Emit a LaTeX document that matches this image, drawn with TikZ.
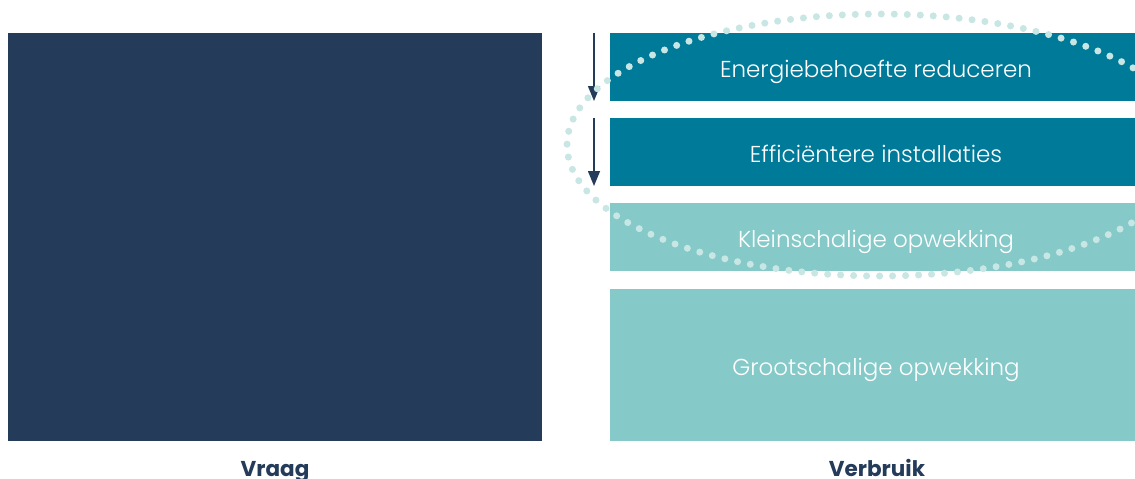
\documentclass[tikz,border=0pt]{standalone}
\usepackage{fontspec}
\setmainfont{Poppins}
\IfFontExistsTF{Poppins Light}{\newfontfamily\lightfont{Poppins Light}}{\newfontfamily\lightfont{Poppins}}
\usetikzlibrary{arrows.meta}
\definecolor{navy}{HTML}{243B5A}
\definecolor{petrol}{HTML}{007A99}
\definecolor{lteal}{HTML}{85CAC8}
\definecolor{dotc}{HTML}{C8E6E3}
\begin{document}
\begin{tikzpicture}[x=1pt,y=-1pt,
  box/.style={draw=none,anchor=north west,inner sep=0pt},
  btxt/.style={anchor=base,inner sep=0pt,text=white,font=\lightfont\fontsize{23}{26}\selectfont},
  lbl/.style={anchor=base,inner sep=0pt,text=navy,font=\fontsize{21.5}{24}\selectfont\bfseries},
  flow/.style={draw=navy,line width=1.5pt,-{Triangle[width=12pt,length=15pt]}}]
\clip (0,0) rectangle (1135,479);
\useasboundingbox (0,0) rectangle (1135,479);
\fill[white] (0,0) rectangle (1135,479);
\node[box,fill=navy,minimum width=534pt,minimum height=408pt] (vraag) at (8,33) {};
\node[box,fill=petrol,minimum width=525pt,minimum height=68pt] (b1) at (610,33) {};
\node[box,fill=petrol,minimum width=525pt,minimum height=68pt] (b2) at (610,118) {};
\node[box,fill=lteal,minimum width=525pt,minimum height=68pt] (b3) at (610,203) {};
\node[box,fill=lteal,minimum width=525pt,minimum height=152pt] (b4) at (610,289) {};
\node[btxt] (t1) at (876,77) {Energiebehoefte reduceren};
\node[btxt] (t2) at (876,162) {Efficiëntere installaties};
\node[btxt] (t3) at (876,247) {Kleinschalige opwekking};
\node[btxt] (t4) at (876,375) {Grootschalige opwekking};
\coordinate (a1s) at (594,33);
\coordinate (a1e) at (594,101);
\coordinate (a2s) at (594,118);
\coordinate (a2e) at (594,186);
\draw[flow] (a1s) -- (a1e);
\draw[flow] (a2s) -- (a2e);
\node[lbl] (lv) at (275,476) {Vraag};
\node[lbl] (lb) at (877,476) {Verbruik};
\draw[dotc,line width=7pt,line cap=round,dash pattern=on 0pt off 13pt] (880,145) ellipse [x radius=313, y radius=131];
\end{tikzpicture}
\end{document}
